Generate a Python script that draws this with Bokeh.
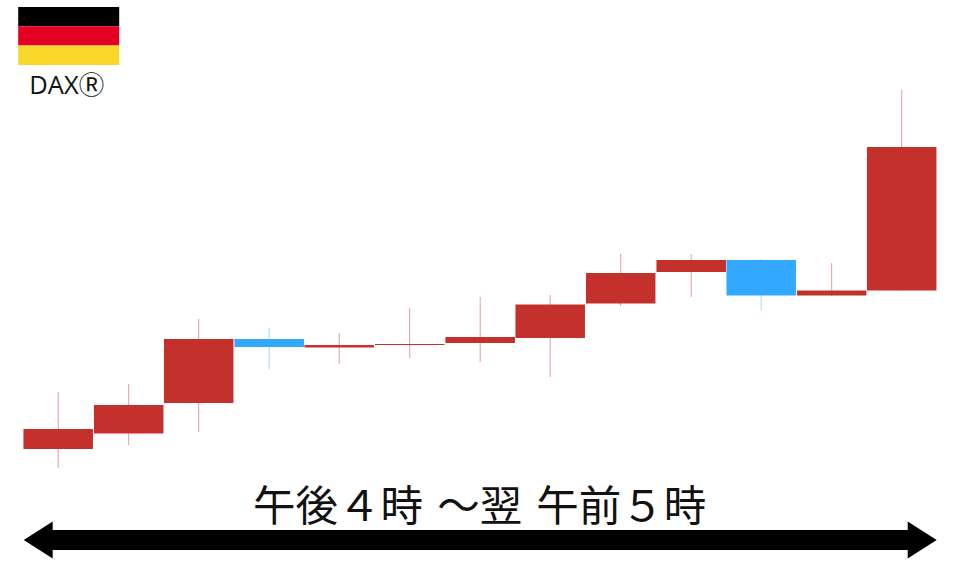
from bokeh.plotting import figure
from bokeh.models import Range1d
from bokeh.core.properties import value
from bokeh.embed import file_html
from bokeh.resources import INLINE

# values on a scale of 0-567 (reference height, upward)
H = 567
highs = [H-v for v in [392, 384, 319, 328, 333, 308, 297, 295, 254, 254, 259, 263, 90]]
lows = [H-v for v in [468, 445, 432, 369, 364, 358, 362, 377, 306, 297, 310, 296, 291]]
body_top = [H-v for v in [429, 405, 339, 339, 345, 344, 337, 304.5, 273, 260, 260, 290.5, 147]]
body_bot = [H-v for v in [449, 433.5, 403, 347, 347.5, 345, 343, 338, 303.5, 272, 295.5, 295.5, 290.5]]
kinds = ["u", "u", "u", "d", "u", "u", "u", "u", "u", "u", "d", "u", "u"]
slots = [58, 128.5, 198.5, 269, 339, 409.5, 480, 550, 620.5, 691, 761, 831.5, 901.5]
title = "午後４時\u2004～翌\u2004午前５時"
label = "DAXⓇ"
flag_colors = ["#000000", "#e30022", "#f9d82b"]

RED, BLUE = "#c4302b", "#33a8ff"
RED_W, BLUE_W = "#e59c9c", "#9fd9ff"

p = figure(width=960, height=567, output_backend="svg", toolbar_location=None,
           x_range=Range1d(0.3, 960.3), y_range=Range1d(-0.5, 566.5),
           min_border=0, outline_line_color=None)
p.xaxis.visible = False
p.yaxis.visible = False
p.grid.visible = False
p.background_fill_color = "white"

p.segment(slots, highs, slots, lows, line_width=1,
          line_color=[RED_W if k == "u" else BLUE_W for k in kinds])
p.vbar(x=slots, width=69.5, top=body_top, bottom=body_bot, line_color=None,
       fill_color=[RED if k == "u" else BLUE for k in kinds])

# flag
for i, c in enumerate(flag_colors):
    p.quad(left=18, right=119, top=H-(7+19.3*i), bottom=H-(7+19.3*(i+1)), fill_color=c, line_color=None)
p.text([66.5], [H-83.5], text=[label], text_font=value("Open Sans, Noto Sans CJK JP"), text_font_size="25.5px",
       text_align="center", text_baseline="middle", text_color="#111111")

# arrow
p.patch([23.5, 52.5, 52.5, 907.5, 907.5, 936.5, 907.5, 907.5, 52.5, 52.5],
        [H-540, H-521.5, H-530, H-530, H-521.5, H-540, H-558.5, H-550, H-550, H-558.5],
        fill_color="black", line_color=None)

p.text([479.5], [H-502], text=[title], text_font=value("Noto Sans CJK JP"), text_font_size="42.5px",
       text_align="center", text_baseline="middle", text_color="#111111")

open("out.html", "w").write(file_html(p, INLINE))
